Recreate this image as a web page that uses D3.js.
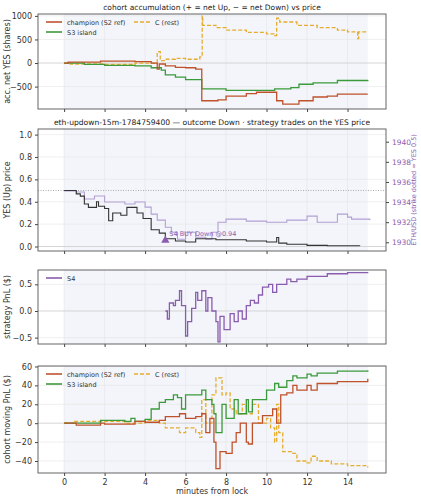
<!DOCTYPE html><html><head><meta charset="utf-8">
<script src="https://cdn.jsdelivr.net/npm/d3@7"></script>
<style>body{margin:0;background:#fff}text{font-family:"DejaVu Sans",sans-serif}</style></head><body>
<svg id="c" width="421" height="500"></svg>
<script>
const xTicks=[0,2,4,6,8,10,12,14];
const accChampion=[[0,0],[0.2,20],[1.8,40],[3.5,30],[4.3,0],[4.6,-130],[4.7,-20],[5,-60],[5.5,-90],[6,-100],[6.5,-130],[6.8,-800],[7.6,-780],[8,-700],[9,-650],[9.5,-620],[10.5,-800],[10.8,-870],[11.6,-800],[12.3,-720],[13,-700],[13.5,-660],[15,-660]];
const accS3=[[0,0],[1,-30],[2,-50],[3.5,-60],[4.3,-100],[4.8,-150],[5,-250],[5.5,-300],[6,-350],[6.8,-550],[8,-580],[10.2,-580],[10.4,-550],[11.2,-520],[11.6,-450],[12.3,-420],[13.5,-370],[15,-360]];
const accC=[[0,0],[0.3,-20],[2,-30],[3.5,0],[4.6,240],[4.75,50],[5,80],[5.5,100],[6,80],[6.7,130],[6.82,1000],[6.85,800],[7.5,750],[8,700],[9,650],[10,620],[10.4,580],[10.5,950],[10.65,870],[11.5,800],[12.5,750],[13.5,700],[14,660],[14.5,520],[14.55,660],[15,660]];
const yesPrice=[[0,0.5],[0.6,0.47],[0.8,0.45],[1,0.38],[1.2,0.35],[1.6,0.4],[1.7,0.36],[2,0.34],[2.2,0.23],[2.4,0.3],[2.8,0.28],[3.1,0.35],[3.6,0.3],[3.9,0.25],[4.3,0.15],[4.7,0.12],[5,0.07],[5.5,0.05],[6,0.04],[6.5,0.07],[7,0.07],[7.5,0.06],[8,0.06],[9,0.05],[10,0.04],[10.5,0.08],[10.6,0.03],[11,0.02],[12,0.01],[13,0.007],[14.6,0.005]];
const ethPrice=[[0,1935.1],[0.6,1935],[1,1934.3],[1.5,1934.6],[2,1934],[3,1933.8],[3.5,1934],[4,1933.5],[4.3,1932.8],[4.6,1932.2],[5,1931.5],[5.3,1931],[5.6,1930.3],[6,1931],[6.5,1930.5],[7,1930.3],[7.3,1931],[7.6,1932],[8,1932.3],[9,1932.1],[10,1932],[11,1932.2],[12,1932.6],[12.5,1932],[13.5,1932.8],[14,1932.5],[14.2,1932.3],[15.1,1932.2]];
const strike=1935.15;
const s4Pnl=[[5,0],[5.1,-0.15],[5.2,0.15],[5.4,0.1],[5.5,0.2],[5.7,0.38],[5.8,0.1],[6,-0.47],[6.1,-0.2],[6.3,0.05],[6.5,0.35],[6.6,0.2],[6.8,0.38],[7,0],[7.1,0.25],[7.3,0],[7.5,-0.2],[7.6,-0.58],[7.7,-0.1],[7.9,-0.35],[8.2,-0.05],[8.4,-0.2],[8.6,0],[8.8,-0.15],[9,0.1],[9.2,0.2],[9.4,0.15],[9.6,0.3],[9.8,0.45],[10.1,0.5],[10.3,0.35],[10.5,0.5],[11,0.6],[11.2,0.55],[11.5,0.6],[12,0.65],[13,0.7],[14,0.72],[15,0.73]];
const pnlChampion=[[0,0],[0.6,-2],[1.8,0],[2,-1],[3.5,2],[4,1],[4.7,3],[5,7],[5.7,10],[6,5],[6.5,7],[6.8,10],[7,-10],[7.2,5],[7.4,-20],[7.5,-48],[7.7,-30],[8,-32],[8.3,-20],[8.5,-10],[8.7,0],[9,-20],[9.1,-22],[9.3,0],[9.8,8],[10.3,15],[10.5,0],[10.7,30],[11,32],[11.3,40],[11.5,35],[12,40],[12.2,35],[12.5,42],[13.5,44],[15,47]];
const pnlS3=[[0,0],[1.8,3],[3,2],[3.3,5],[3.5,2],[4,4],[4.3,15],[4.7,22],[5,25],[5.4,30],[5.6,27],[5.8,15],[6,30],[6.8,35],[7,25],[7.3,20],[7.4,10],[7.5,-10],[7.8,20],[8,5],[8.4,25],[8.6,10],[9,25],[9.1,12],[9.3,25],[10,35],[10.4,42],[10.6,38],[11,45],[11.3,50],[11.5,48],[12,52],[12.2,50],[12.5,53],[13.5,55],[15,56]];
const pnlC=[[0,0],[0.5,2],[2.5,2],[3,0],[4,3],[4.7,0],[5,-5],[5.7,-10],[6,-5],[6.5,-10],[6.7,-15],[6.8,25],[7,0],[7.3,30],[7.5,48],[7.8,30],[8,32],[8.2,15],[8.5,10],[8.8,20],[9,10],[9.3,20],[9.6,0],[10,5],[10.2,-5],[10.4,-20],[10.5,20],[10.6,-10],[10.8,-30],[11.3,-32],[11.5,-40],[12,-42],[12.2,-35],[12.5,-40],[13.2,-43],[14,-45],[15,-47]];
const cRed="#c0522b",cGreen="#3b9a3b",cOr="#e6ad2e",cPur="#8a5cb0";
const svg=d3.select("#c");
const L=38,R=386;
const x=d3.scaleLinear().domain([-1.29,15.9]).range([L,R]);
function panel(top,bot,dom,ticks,fmt,ylab,showX){
  const y=d3.scaleLinear().domain(dom).range([bot,top]);
  const g=svg.append("g");
  g.append("rect").attr("x",L).attr("y",top).attr("width",R-L).attr("height",bot-top).attr("fill","#fff");
  g.append("rect").attr("x",x(0)).attr("y",top).attr("width",x(15)-x(0)).attr("height",bot-top).attr("fill","#f3f5fa");
  xTicks.forEach(t=>g.append("line").attr("x1",x(t)).attr("x2",x(t)).attr("y1",top).attr("y2",bot).attr("stroke","#e4e4e4").attr("stroke-width",0.6));
  ticks.forEach(t=>g.append("line").attr("x1",L).attr("x2",R).attr("y1",y(t)).attr("y2",y(t)).attr("stroke",t==0?"#d0d0d0":"#e4e4e4").attr("stroke-width",t==0?0.9:0.6));
  const ya=g.append("g").attr("transform",`translate(${L},0)`).call(d3.axisLeft(y).tickValues(ticks).tickFormat(fmt).tickSize(3));
  const xa=g.append("g").attr("transform",`translate(0,${bot})`).call(d3.axisBottom(x).tickValues(xTicks).tickSize(3).tickFormat(showX?d3.format("d"):""));
  [ya,xa].forEach(a=>{a.select(".domain").remove();a.selectAll("text").attr("font-size",8).attr("fill","#333");a.selectAll("line").attr("stroke","#444")});
  g.append("text").attr("transform",`translate(10,${(top+bot)/2}) rotate(-90)`).attr("text-anchor","middle").attr("font-size",8).attr("fill","#333").text(ylab);
  return {g,y,top,bot};
}
function frame(p){p.g.append("rect").attr("x",L).attr("y",p.top).attr("width",R-L).attr("height",p.bot-p.top).attr("fill","none").attr("stroke","#555").attr("stroke-width",0.9);}
function step(p,data,color,dash,w,scale){
  const ys=scale||p.y;
  p.g.append("path").datum(data).attr("d",d3.line().curve(d3.curveStepAfter).x(d=>x(d[0])).y(d=>ys(d[1]))).attr("fill","none").attr("stroke",color).attr("stroke-width",w||1.3).attr("stroke-dasharray",dash||null);
}
function legend(p,items,cols){
  items.forEach((it,i)=>{
    const xx=cols==2?L+8+(i%2)*88:L+8, yy=cols==2?p.top+8+Math.floor(i/2)*10:p.top+8+i*10;
    p.g.append("line").attr("x1",xx).attr("x2",xx+16).attr("y1",yy).attr("y2",yy).attr("stroke",it[1]).attr("stroke-width",1.6).attr("stroke-dasharray",it[2]||null);
    p.g.append("text").attr("x",xx+21).attr("y",yy+2.5).attr("font-size",6.5).attr("fill","#333").text(it[0]);});
}
function title(t,yy,fs){svg.append("text").attr("x",(L+R)/2).attr("y",yy).attr("text-anchor","middle").attr("font-size",fs).attr("fill","#222").text(t);}
const p1=panel(14,109,[-975,1040],[-500,0,500,1000],d3.format("d"),"acc. net YES (shares)",false);
step(p1,accC,cOr,"4,2");step(p1,accS3,cGreen);step(p1,accChampion,cRed);frame(p1);
legend(p1,[["champion (S2 ref)",cRed],["C (rest)",cOr,"4,2"],["S3 island",cGreen]],2);
title("cohort accumulation (+ = net Up, − = net Down) vs price",10,7.5);
const p2=panel(129,251,[-0.04,1.05],[0,0.2,0.4,0.6,0.8,1.0],d3.format(".1f"),"YES (Up) price",false);
const yR=d3.scaleLinear().domain([1930,1940]).range([242.3,141.7]);
p2.g.append("line").attr("x1",L).attr("x2",R).attr("y1",yR(strike)).attr("y2",yR(strike)).attr("stroke","#999").attr("stroke-dasharray","1,1.5").attr("stroke-width",0.8);
step(p2,ethPrice,"#b3a0d4",null,1.1,yR);
step(p2,yesPrice,"#333",null,1.1);
const ra=p2.g.append("g").attr("transform",`translate(${R},0)`).call(d3.axisRight(yR).tickValues([1930,1932,1934,1936,1938,1940]).tickFormat(d3.format("d")).tickSize(3));
ra.select(".domain").remove();ra.selectAll("text").attr("font-size",7.5).attr("fill",cPur);ra.selectAll("line").attr("stroke","#444");
p2.g.append("text").attr("transform",`translate(416,190) rotate(-90)`).attr("text-anchor","middle").attr("font-size",6.5).attr("fill",cPur).text("ETH/USD (strike dotted = YES 0.5)");
p2.g.append("path").attr("d",d3.symbol(d3.symbolTriangle,30)()).attr("transform",`translate(${x(5)},${p2.y(0.055)})`).attr("fill",cPur);
p2.g.append("text").attr("x",x(5)+4).attr("y",p2.y(0.09)).attr("font-size",6.5).attr("fill",cPur).text("S4 BUY Down @0.94");
frame(p2);
title("eth-updown-15m-1784759400 — outcome Down · strategy trades on the YES price",125,7.6);
const p3=panel(270,344,[-0.62,0.77],[-0.5,0,0.5],d3.format(".1f"),"strategy PnL ($)",false);
step(p3,s4Pnl,cPur);frame(p3);legend(p3,[["S4",cPur]],1);
const p4=panel(366,473,[-52.7,60.5],[-40,-20,0,20,40,60],d3.format("d"),"cohort moving PnL ($)",true);
step(p4,pnlC,cOr,"4,2");step(p4,pnlS3,cGreen);step(p4,pnlChampion,cRed);frame(p4);
legend(p4,[["champion (S2 ref)",cRed],["C (rest)",cOr,"4,2"],["S3 island",cGreen]],2);
svg.append("text").attr("x",(L+R)/2).attr("y",494).attr("text-anchor","middle").attr("font-size",8).attr("fill","#333").text("minutes from lock");
</script></body></html>
